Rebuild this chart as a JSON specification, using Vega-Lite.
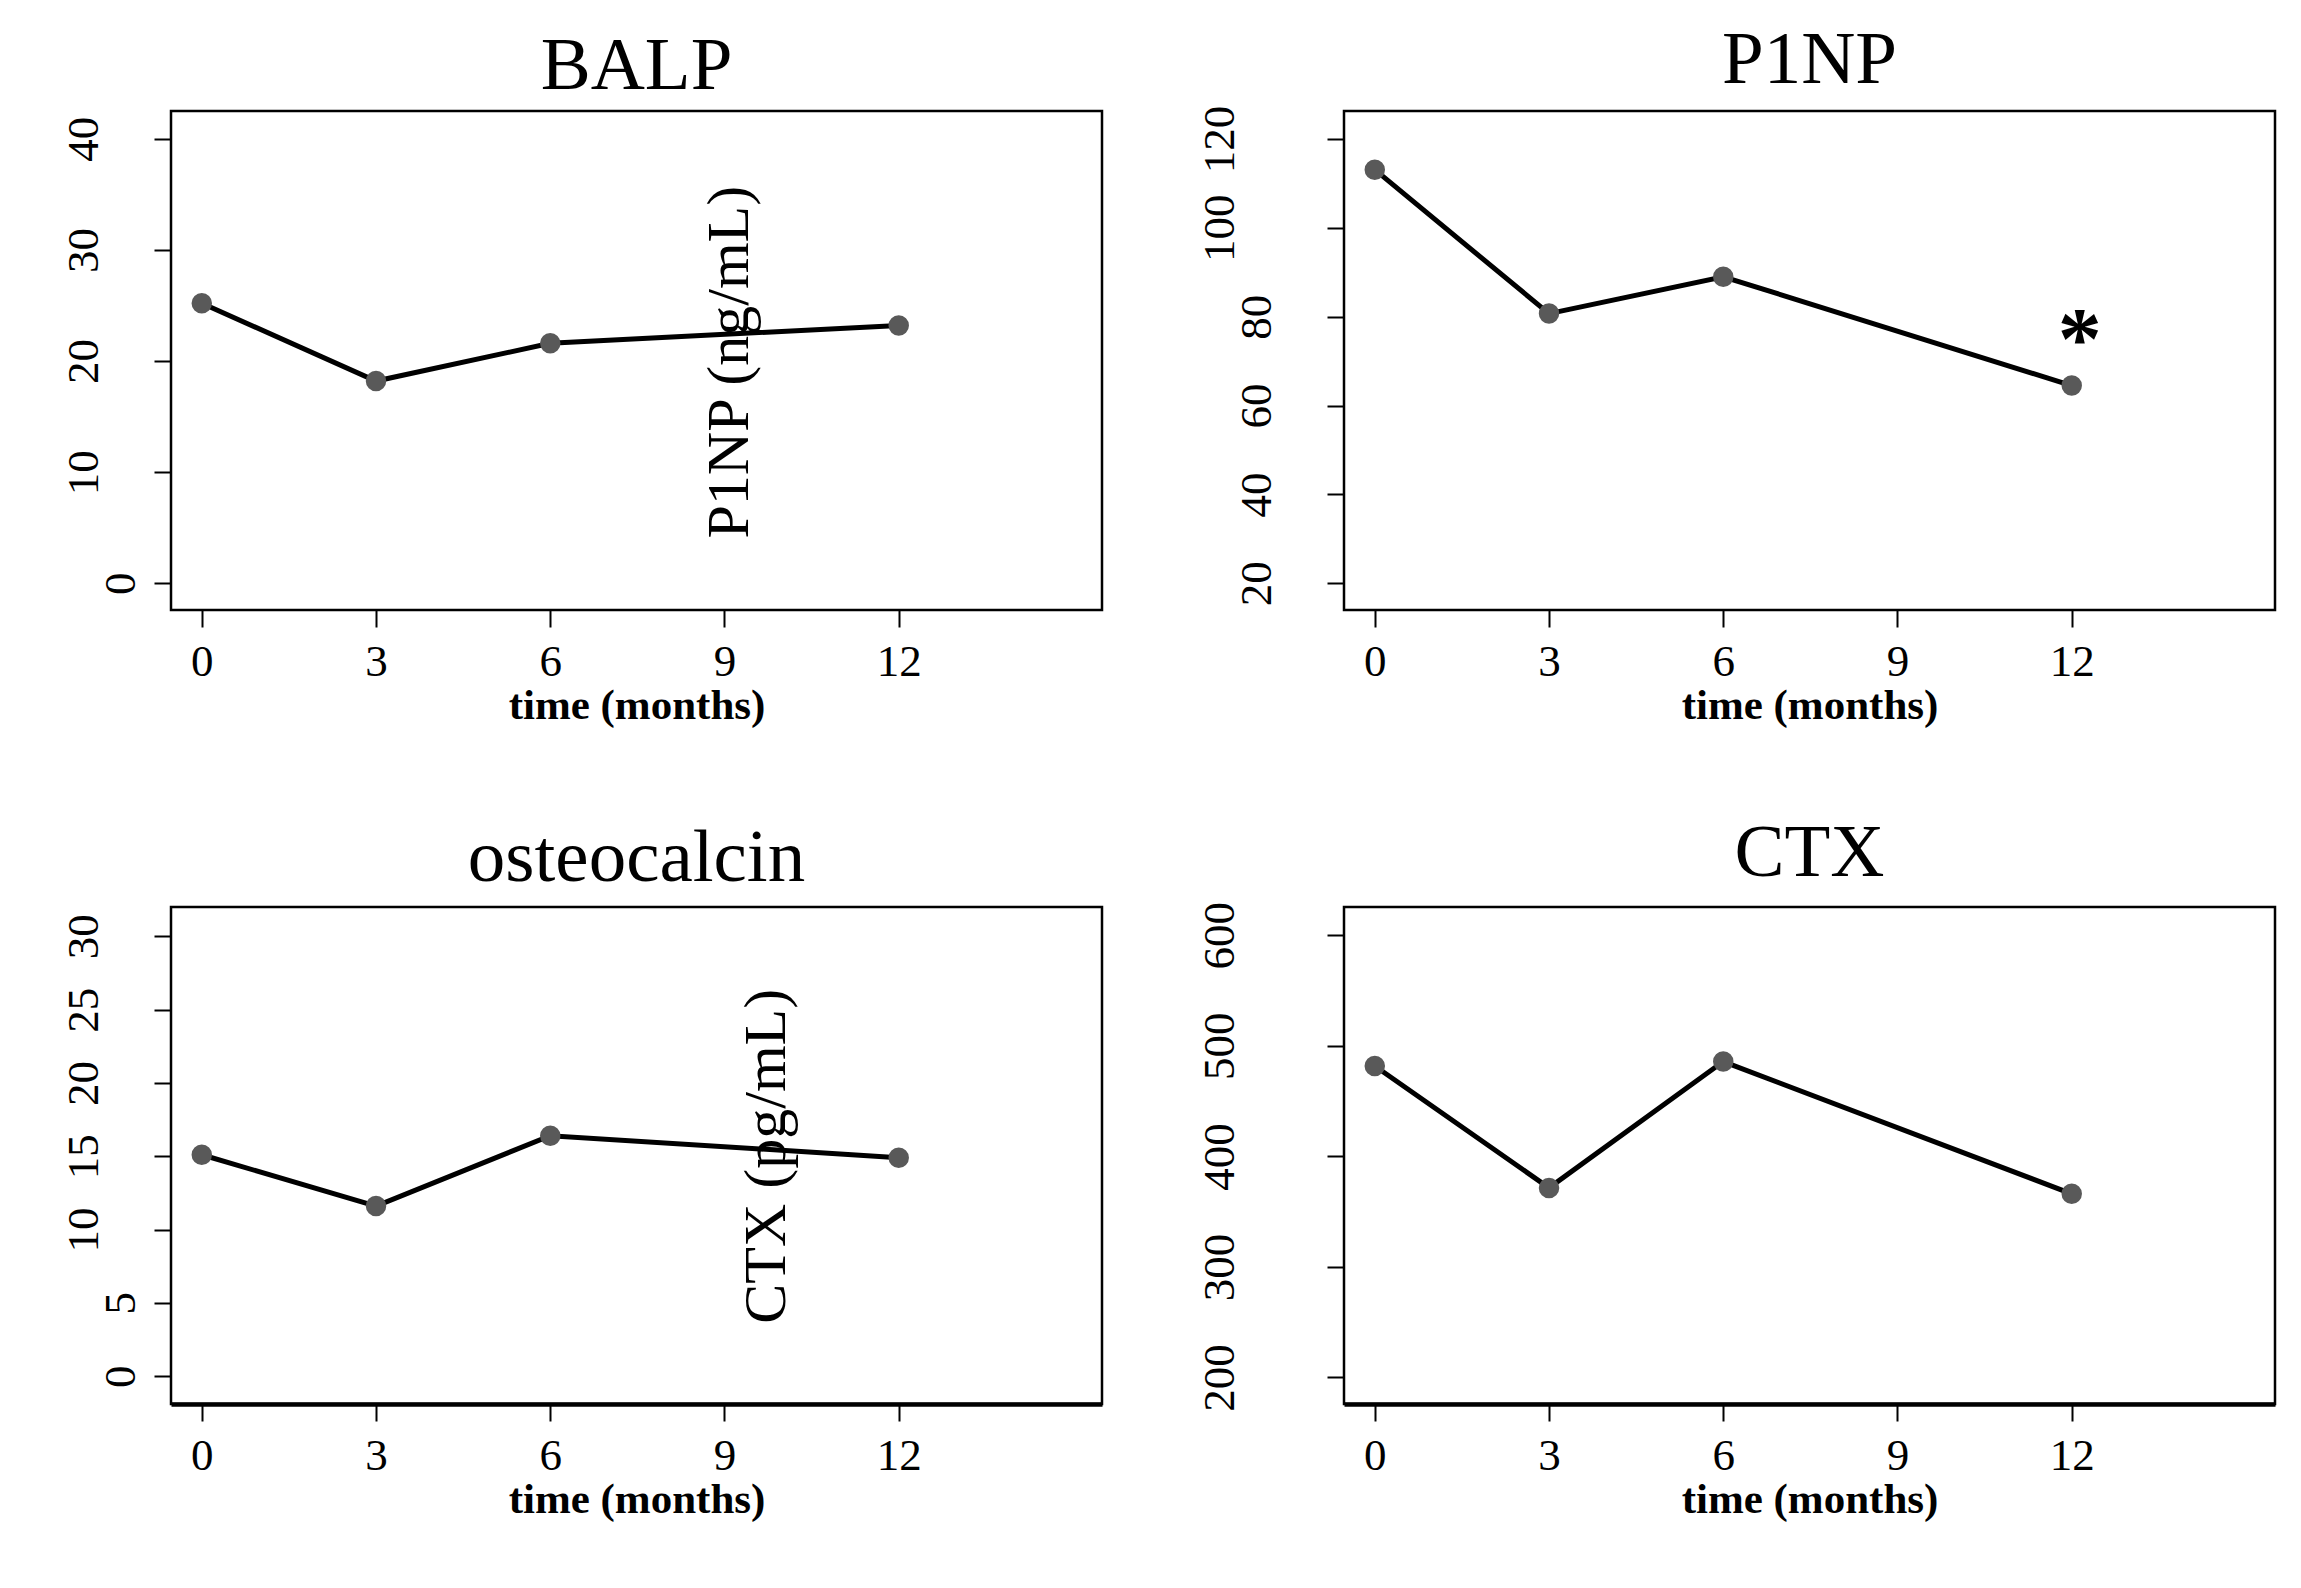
{
  "$schema": "https://vega.github.io/schema/vega-lite/v6.json",
  "background": "white",
  "padding": {"left": 59, "top": 21, "right": 5, "bottom": 5},
  "config": {
    "font": "Liberation Serif",
    "view": {"stroke": "black", "strokeWidth": 2.5},
    "axis": {
      "grid": false,
      "domain": false,
      "ticks": true,
      "tickColor": "black",
      "tickWidth": 2,
      "tickSize": 17,
      "labelFont": "Liberation Serif",
      "labelColor": "black",
      "titleFont": "Liberation Serif",
      "titleColor": "black"
    },
    "axisX": {"labelFontSize": 45, "labelPadding": 12, "titleFontSize": 43, "titleFontWeight": "bold", "titlePadding": 0, "format": "d"},
    "axisY": {"labelFontSize": 45, "labelAngle": 270, "labelAlign": "center", "labelBaseline": "alphabetic", "format": "d"},
    "title": {"font": "Liberation Serif", "fontSize": 75, "fontWeight": "normal", "color": "black", "baseline": "alphabetic", "anchor": "middle"}
  },
  "datasets": {
    "markers": [
      {"marker": "BALP", "month": 0, "value": 25.2},
      {"marker": "BALP", "month": 3, "value": 18.2},
      {"marker": "BALP", "month": 6, "value": 21.6},
      {"marker": "BALP", "month": 12, "value": 23.2},
      {"marker": "P1NP", "month": 0, "value": 113.1},
      {"marker": "P1NP", "month": 3, "value": 80.7},
      {"marker": "P1NP", "month": 6, "value": 89.0},
      {"marker": "P1NP", "month": 12, "value": 64.5, "note": "*"},
      {"marker": "osteocalcin", "month": 0, "value": 15.1},
      {"marker": "osteocalcin", "month": 3, "value": 11.6},
      {"marker": "osteocalcin", "month": 6, "value": 16.4},
      {"marker": "osteocalcin", "month": 12, "value": 14.9},
      {"marker": "CTX", "month": 0, "value": 481.8},
      {"marker": "CTX", "month": 3, "value": 371.5},
      {"marker": "CTX", "month": 6, "value": 485.8},
      {"marker": "CTX", "month": 12, "value": 366.1}
    ],
    "strayTitles": [
      {"panel": "BALP", "label": "P1NP (ng/mL)"},
      {"panel": "osteocalcin", "label": "CTX (pg/mL)"}
    ]
  },
  "columns": 2,
  "bounds": "flush",
  "spacing": {"row": 297, "column": 242},
  "concat": [
    {
      "width": 931, "height": 499,
      "title": {"text": "BALP", "offset": 6},
      "layer": [
        {
          "data": {"name": "markers"},
          "transform": [{"filter": "datum.marker === 'BALP'"}],
          "mark": {"type": "line", "color": "black", "strokeWidth": 5},
          "encoding": {
            "x": {"field": "month", "type": "quantitative", "scale": {"domain": [-0.53, 15.5], "nice": false, "zero": false}, "axis": {"values": [0, 3, 6, 9, 12], "title": "time (months)"}},
            "y": {"field": "value", "type": "quantitative", "scale": {"domain": [-2.4, 42.5], "nice": false, "zero": false}, "axis": {"values": [0, 10, 20, 30, 40], "title": null, "labelPadding": {"condition": {"test": "datum.value < 10", "value": 20}, "value": 57}}}
          }
        },
        {
          "data": {"name": "markers"},
          "transform": [{"filter": "datum.marker === 'BALP'"}],
          "mark": {"type": "circle", "color": "#595959", "opacity": 1, "size": 420},
          "encoding": {
            "x": {"field": "month", "type": "quantitative"},
            "y": {"field": "value", "type": "quantitative"}
          }
        },
        {
          "data": {"name": "strayTitles"},
          "transform": [{"filter": "datum.panel === 'BALP'"}],
          "mark": {"type": "text", "angle": 270, "fontSize": 60, "align": "center", "baseline": "middle", "color": "black"},
          "encoding": {
            "x": {"datum": 9.09, "type": "quantitative"},
            "y": {"datum": 19.9, "type": "quantitative"},
            "text": {"field": "label", "type": "nominal"}
          }
        }
      ]
    },
    {
      "width": 931, "height": 499,
      "title": {"text": "P1NP", "offset": 6},
      "data": {"name": "markers"},
      "transform": [{"filter": "datum.marker === 'P1NP'"}],
      "encoding": {
        "x": {"field": "month", "type": "quantitative", "scale": {"domain": [-0.53, 15.5], "nice": false, "zero": false}, "axis": {"values": [0, 3, 6, 9, 12], "title": "time (months)"}},
        "y": {"field": "value", "type": "quantitative", "scale": {"domain": [14.0, 126.3], "nice": false, "zero": false}, "axis": {"values": [20, 40, 60, 80, 100, 120], "title": null, "labelPadding": {"condition": {"test": "datum.value >= 100", "value": 94}, "value": 57}}}
      },
      "layer": [
        {"mark": {"type": "line", "color": "black", "strokeWidth": 5}},
        {"mark": {"type": "circle", "color": "#595959", "opacity": 1, "size": 420}},
        {
          "transform": [{"filter": "datum.note"}],
          "mark": {"type": "text", "fontSize": 88, "fontWeight": "bold", "align": "center", "baseline": "alphabetic", "dx": 8, "dy": -18, "color": "black"},
          "encoding": {"text": {"field": "note"}}
        }
      ]
    },
    {
      "width": 931, "height": 497,
      "title": {"text": "osteocalcin", "offset": 10},
      "layer": [
        {
          "data": {"name": "markers"},
          "transform": [{"filter": "datum.marker === 'osteocalcin'"}],
          "mark": {"type": "line", "color": "black", "strokeWidth": 5},
          "encoding": {
            "x": {"field": "month", "type": "quantitative", "scale": {"domain": [-0.53, 15.5], "nice": false, "zero": false}, "axis": {"values": [0, 3, 6, 9, 12], "title": "time (months)", "domain": true, "domainColor": "black", "domainWidth": 4.5}},
            "y": {"field": "value", "type": "quantitative", "scale": {"domain": [-1.9, 32.0], "nice": false, "zero": false}, "axis": {"values": [0, 5, 10, 15, 20, 25, 30], "title": null, "labelPadding": {"condition": {"test": "datum.value < 10", "value": 20}, "value": 57}}}
          }
        },
        {
          "data": {"name": "markers"},
          "transform": [{"filter": "datum.marker === 'osteocalcin'"}],
          "mark": {"type": "circle", "color": "#595959", "opacity": 1, "size": 420},
          "encoding": {
            "x": {"field": "month", "type": "quantitative"},
            "y": {"field": "value", "type": "quantitative"}
          }
        },
        {
          "data": {"name": "strayTitles"},
          "transform": [{"filter": "datum.panel === 'osteocalcin'"}],
          "mark": {"type": "text", "angle": 270, "fontSize": 60, "align": "center", "baseline": "middle", "color": "black"},
          "encoding": {
            "x": {"datum": 9.73, "type": "quantitative"},
            "y": {"datum": 15.0, "type": "quantitative"},
            "text": {"field": "label", "type": "nominal"}
          }
        }
      ]
    },
    {
      "width": 931, "height": 497,
      "title": {"text": "CTX", "offset": 10},
      "data": {"name": "markers"},
      "transform": [{"filter": "datum.marker === 'CTX'"}],
      "encoding": {
        "x": {"field": "month", "type": "quantitative", "scale": {"domain": [-0.53, 15.5], "nice": false, "zero": false}, "axis": {"values": [0, 3, 6, 9, 12], "title": "time (months)", "domain": true, "domainColor": "black", "domainWidth": 4.5}},
        "y": {"field": "value", "type": "quantitative", "scale": {"domain": [176, 625.6], "nice": false, "zero": false}, "axis": {"values": [200, 300, 400, 500, 600], "title": null, "labelPadding": 94}}
      },
      "layer": [
        {"mark": {"type": "line", "color": "black", "strokeWidth": 5}},
        {"mark": {"type": "circle", "color": "#595959", "opacity": 1, "size": 420}}
      ]
    }
  ]
}
